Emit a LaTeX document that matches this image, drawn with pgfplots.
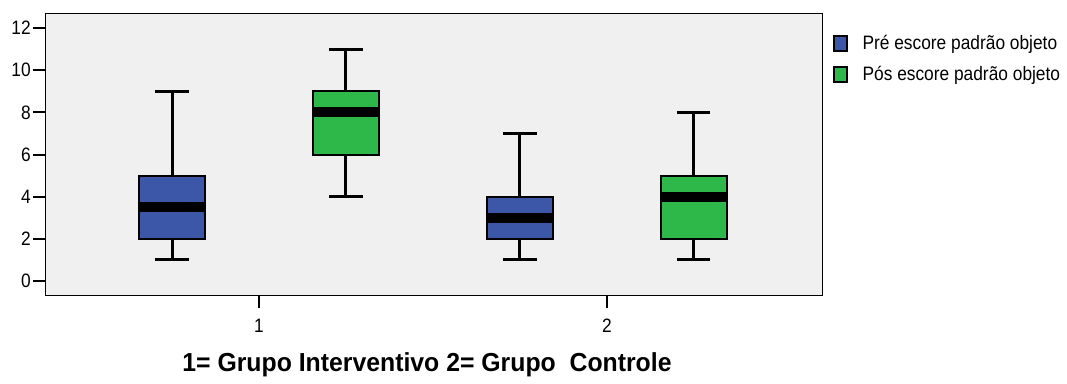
\documentclass[border=0pt]{standalone}
\usepackage{pgfplots}
\pgfplotsset{compat=1.18}
\usepgfplotslibrary{statistics}
\usepackage{fontspec}
\setmainfont{Liberation Sans}
\definecolor{bxblue}{RGB}{61,87,168}
\definecolor{bxgreen}{RGB}{47,184,74}
\definecolor{bgray}{RGB}{240,240,240}
\newcommand{\st}[1]{\scalebox{1}[1.12]{#1}}
\begin{document}
\begin{tikzpicture}
\useasboundingbox (0,0) rectangle (800.25pt,288pt);
\begin{axis}[
  at={(33.75pt,66pt)}, anchor=south west,
  scale only axis, width=582.75pt, height=211.5pt,
  xmin=0.385, xmax=2.618, ymin=-0.71, ymax=12.67,
  xtick={1,2}, ytick={0,2,4,6,8,10,12},
  axis background/.style={fill=bgray},
  axis line style={black, line width=0.75pt},
  tick align=outside, major tick length=9pt,
  xtick style={black, line width=1.1pt},
  ytick style={black, line width=1.5pt},
  xtick pos=bottom, ytick pos=left,
  /pgf/number format/assume math mode=true,
  tick label style={font=\fontsize{13pt}{15pt}\selectfont},
  xticklabel={\st{\pgfmathprintnumber{\tick}}},
  yticklabel={\st{\pgfmathprintnumber{\tick}}},
  yticklabel style={inner sep=1.5pt},
  xticklabel style={yshift=-5pt},
  xlabel={\scalebox{1}[1.05]{1= Grupo Interventivo 2= Grupo~~Controle}},
  xlabel style={font=\fontsize{18.6pt}{22pt}\selectfont\bfseries, at={(rel axis cs:0.4916,0)}, anchor=center, yshift=-51.75pt},
  legend style={at={(rel axis cs:1.0142,0.935)}, anchor=north west, draw=none, fill=none,
    font=\fontsize{13pt}{15pt}\selectfont, row sep=7pt, inner sep=0pt},
  legend cell align=left,
  boxplot/draw direction=y,
  boxplot/every box/.style={draw=black, line width=1.5pt},
  boxplot/every whisker/.style={black, line width=2.25pt},
  boxplot/every median/.style={black, line width=7.5pt},
]
\addplot+[forget plot, fill=bxblue, draw=black, solid, mark=none,
  boxplot prepared={draw position=0.75, lower whisker=1, lower quartile=2, median=3.5, upper quartile=5, upper whisker=9, box extend=0.19, whisker extend=0.095}] coordinates {};
\addplot+[forget plot, fill=bxgreen, draw=black, solid, mark=none,
  boxplot prepared={draw position=1.25, lower whisker=4, lower quartile=6, median=8, upper quartile=9, upper whisker=11, box extend=0.19, whisker extend=0.095}] coordinates {};
\addplot+[forget plot, fill=bxblue, draw=black, solid, mark=none,
  boxplot prepared={draw position=1.75, lower whisker=1, lower quartile=2, median=3, upper quartile=4, upper whisker=7, box extend=0.19, whisker extend=0.095}] coordinates {};
\addplot+[forget plot, fill=bxgreen, draw=black, solid, mark=none,
  boxplot prepared={draw position=2.25, lower whisker=1, lower quartile=2, median=4, upper quartile=5, upper whisker=8, box extend=0.19, whisker extend=0.095}] coordinates {};
\addlegendimage{legend image code/.code={\draw[fill=bxblue,draw=black,line width=1.5pt] (0.75pt,-5.6pt) rectangle (10.5pt,5.6pt); \path (19.75pt,0pt);}}
\addlegendentry{\st{Pré escore padrão objeto}}
\addlegendimage{legend image code/.code={\draw[fill=bxgreen,draw=black,line width=1.5pt] (0.75pt,-5.6pt) rectangle (10.5pt,5.6pt); \path (19.75pt,0pt);}}
\addlegendentry{\st{Pós escore padrão objeto}}
\end{axis}
\end{tikzpicture}
\end{document}
